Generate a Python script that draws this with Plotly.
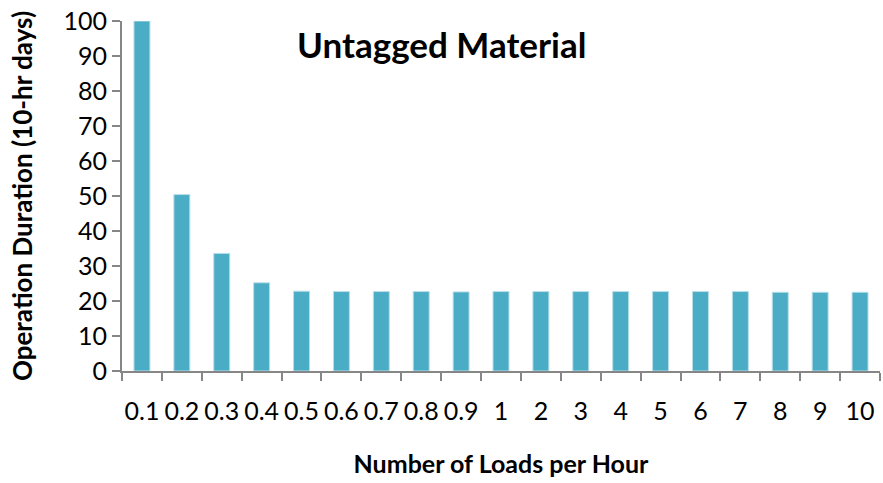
"""Untagged material: operation duration vs loads per hour."""

import plotly.graph_objects as go

LOADS = ["0.1", "0.2", "0.3", "0.4", "0.5", "0.6", "0.7", "0.8", "0.9", "1",
         "2", "3", "4", "5", "6", "7", "8", "9", "10"]
DURATION = [100, 50.4, 33.6, 25.2, 22.8, 22.7, 22.7, 22.7, 22.6, 22.7,
            22.7, 22.7, 22.7, 22.7, 22.7, 22.7, 22.5, 22.5, 22.5]

FONT = "Lato, Open Sans, sans-serif"
AXIS_GRAY = "#868686"


def main():
    fig = go.Figure(go.Bar(
        x=LOADS, y=DURATION,
        marker=dict(color="#4BACC6", line=dict(color="#B7DEE8", width=1)),
    ))
    fig.update_layout(
        width=883, height=483,
        margin=dict(l=122, r=3, t=21, b=112),
        plot_bgcolor="white", paper_bgcolor="white",
        bargap=0.6, showlegend=False,
        font=dict(family=FONT, size=25, color="black"),
        annotations=[dict(
            text="<b>Untagged Material</b>", x=0.421, y=1.0,
            xref="paper", yref="paper", xanchor="center", yanchor="top",
            showarrow=False, font=dict(size=35, family=FONT),
        )],
    )
    fig.update_xaxes(
        type="category", showline=True, linecolor=AXIS_GRAY, linewidth=2,
        ticks="outside", tickson="boundaries", ticklen=8, tickwidth=2,
        tickcolor=AXIS_GRAY, ticklabelstandoff=17, tickangle=0,
        automargin=False,
        title=dict(text="<b>Number of Loads per Hour</b>", standoff=31,
                   font=dict(size=25)),
    )
    fig.update_yaxes(
        range=[0, 100], dtick=10, showgrid=False, zeroline=False,
        showline=True, linecolor=AXIS_GRAY, linewidth=2,
        ticks="outside", ticklen=8, tickwidth=2, tickcolor=AXIS_GRAY,
        automargin=False,
        title=dict(text="<b>Operation Duration (10-hr days)</b>", standoff=23,
                   font=dict(size=26)),
    )
    fig.write_html("out.html", config={"displayModeBar": False},
                   post_script="document.body.style.margin='0px';")


if __name__ == "__main__":
    main()
